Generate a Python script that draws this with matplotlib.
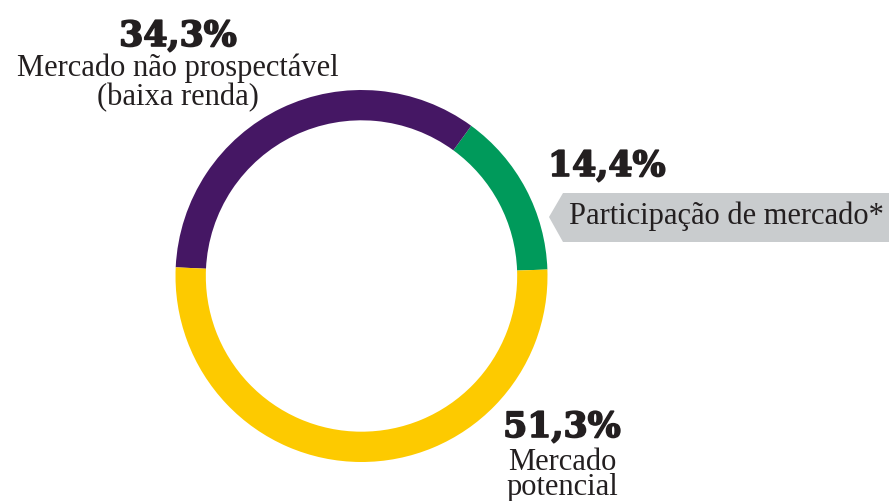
import matplotlib.pyplot as plt
from matplotlib.patches import Polygon
import matplotlib.patheffects as pe

# Dados (%)
labels = ['Participação de mercado*', 'Mercado não prospectável\n(baixa renda)', 'Mercado\npotencial']
values = [14.4, 34.3, 51.3]
pct_labels = ['14,4%', '34,3%', '51,3%']
colors = ['#009a5b', '#451764', '#fdca00']

W, H = 889, 501
fig = plt.figure(figsize=(W / 100, H / 100), dpi=100)

# Anel: centro (361.5, 276), raio 186 px
cx, cy, r = 361.5, 276, 186
ax = fig.add_axes([(cx - r) / W, (H - cy - r) / H, 2 * r / W, 2 * r / H])
ax.pie(values, colors=colors, startangle=2, counterclock=True,
       radius=1, wedgeprops=dict(width=0.163, edgecolor='none'))
ax.set_xlim(-1, 1)
ax.set_ylim(-1, 1)
ax.axis('off')

# Camada de texto em coordenadas de pixel
ov = fig.add_axes([0, 0, 1, 1])
ov.set_xlim(0, W)
ov.set_ylim(H, 0)
ov.axis('off')

pct_style = dict(family='DejaVu Serif', fontweight='bold', fontsize=25, color='#231f20',
                 path_effects=[pe.withStroke(linewidth=1.2, foreground='#231f20')])
lab_style = dict(family='Liberation Serif', fontsize=22, color='#231f20')

# Etiqueta cinza
tag = Polygon([(549, 217), (563, 193), (W, 193), (W, 242), (563, 242)],
              closed=True, facecolor='#c9ccce', edgecolor='none')
ov.add_patch(tag)

ov.text(548, 176, pct_labels[0], ha='left', va='baseline', **pct_style)
ov.text(569, 224, labels[0], ha='left', va='baseline', **lab_style)

ov.text(178, 46, pct_labels[1], ha='center', va='baseline', **pct_style)
ov.text(178, 53, labels[1], ha='center', va='top', linespacing=1.02, **lab_style)

ov.text(562, 437, pct_labels[2], ha='center', va='baseline', **pct_style)
ov.text(562, 448, labels[2], ha='center', va='top', linespacing=0.8, **lab_style)

fig.savefig('out.png', dpi=100)
